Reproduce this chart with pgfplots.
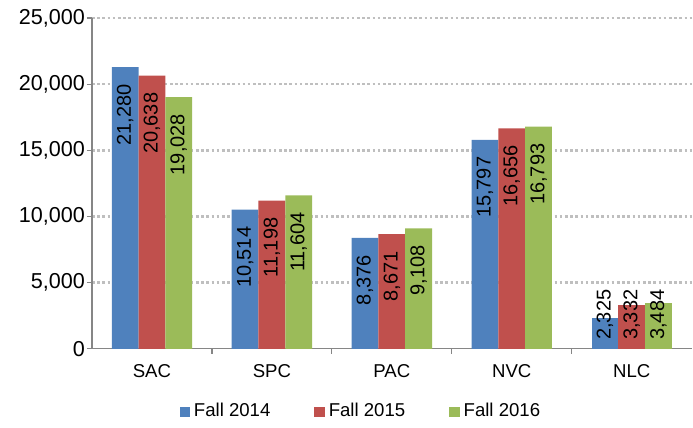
\documentclass[border=0pt]{standalone}
\usepackage{pgfplots}
\pgfplotsset{compat=1.18}
\usepackage{fontspec}
\setmainfont{Liberation Sans}

\definecolor{cblue}{HTML}{4F81BD}
\definecolor{cred}{HTML}{C0504D}
\definecolor{cgreen}{HTML}{9BBB59}
\definecolor{axgray}{HTML}{868686}
\definecolor{gridgray}{HTML}{BFBFBF}

\begin{document}
\begin{tikzpicture}
\begin{axis}[
    name=ax,
    width=300pt, height=165.5pt, scale only axis,
    xmin=-0.5, xmax=4.5, ymin=0, ymax=25000,
    axis lines*=left,
    axis line style={axgray, line width=0.6pt},
    ybar, bar width=13.4pt,
    xtick={0,1,2,3,4},
    xticklabels={SAC,SPC,PAC,NVC,NLC},
    major x tick style={draw=none},
    minor xtick={0.5,1.5,2.5,3.5},
    minor tick length=2.5pt,
    major tick length=2.5pt,
    tick align=outside,
    tick style={axgray, line width=0.6pt},
    ytick={5000,10000,15000,20000,25000},
    extra y ticks={0},
    extra y tick style={grid=none},
    ymajorgrids,
    grid style={gridgray, line width=1.3pt, dash pattern=on 1.3pt off 1.3pt},
    scaled y ticks=false,
    /pgf/number format/1000 sep={,},
    /pgf/number format/assume math mode=true,
    yticklabel style={font=\fontsize{10.8}{12}\selectfont, xshift=2.5pt},
    xticklabel style={font=\fontsize{9.3}{11}\selectfont, yshift=-2pt},
    nodes near coords={\pgfmathprintnumber{\pgfplotspointmeta}\rule{5pt}{0pt}},
    every node near coord/.append style={font=\fontsize{10}{12}\selectfont, black, rotate=90, anchor=east},
    legend style={at={(0.45,-0.19)}, anchor=center, draw=none, fill=none,
        legend columns=3, font=\fontsize{9.3}{11}\selectfont,
        /tikz/every even column/.append style={column sep=20pt}},
    legend image code/.code={\fill[#1] (0pt,-2.6pt) rectangle (5.2pt,2.6pt);},
]
% SAC, SPC, PAC, NVC
\addplot[fill=cblue, draw=none, bar shift=-13.4pt] coordinates {(0,21280) (1,10514) (2,8376) (3,15797)};
\addplot[fill=cred, draw=none, bar shift=0pt] coordinates {(0,20638) (1,11198) (2,8671) (3,16656)};
\addplot[fill=cgreen, draw=none, bar shift=13.4pt] coordinates {(0,19028) (1,11604) (2,9108) (3,16793)};
\legend{Fall 2014, Fall 2015, Fall 2016}
% NLC bars
\addplot[fill=cblue, draw=none, bar shift=-13.4pt, forget plot, nodes near coords={}] coordinates {(4,2325)};
\addplot[fill=cred, draw=none, bar shift=0pt, forget plot, nodes near coords={}] coordinates {(4,3332)};
\addplot[fill=cgreen, draw=none, bar shift=13.4pt, forget plot, nodes near coords={}] coordinates {(4,3484)};
% NLC labels: too long for the bars, set from the base upwards
\addplot[draw=none, fill=none, bar shift=-13.4pt, forget plot, y filter/.expression={0}, point meta=rawy,
    nodes near coords={\rule{1pt}{0pt}\pgfmathprintnumber{\pgfplotspointmeta}},
    every node near coord/.append style={anchor=west}] coordinates {(4,2325)};
\addplot[draw=none, fill=none, bar shift=0pt, forget plot, y filter/.expression={0}, point meta=rawy,
    nodes near coords={\rule{1pt}{0pt}\pgfmathprintnumber{\pgfplotspointmeta}},
    every node near coord/.append style={anchor=west}] coordinates {(4,3332)};
\addplot[draw=none, fill=none, bar shift=13.4pt, forget plot, y filter/.expression={0}, point meta=rawy,
    nodes near coords={\rule{1pt}{0pt}\pgfmathprintnumber{\pgfplotspointmeta}},
    every node near coord/.append style={anchor=west}] coordinates {(4,3484)};
\end{axis}
\path (ax.south west) ++(-46pt,-38pt) rectangle ++(346.5pt,212.5pt);
\end{tikzpicture}
\end{document}
